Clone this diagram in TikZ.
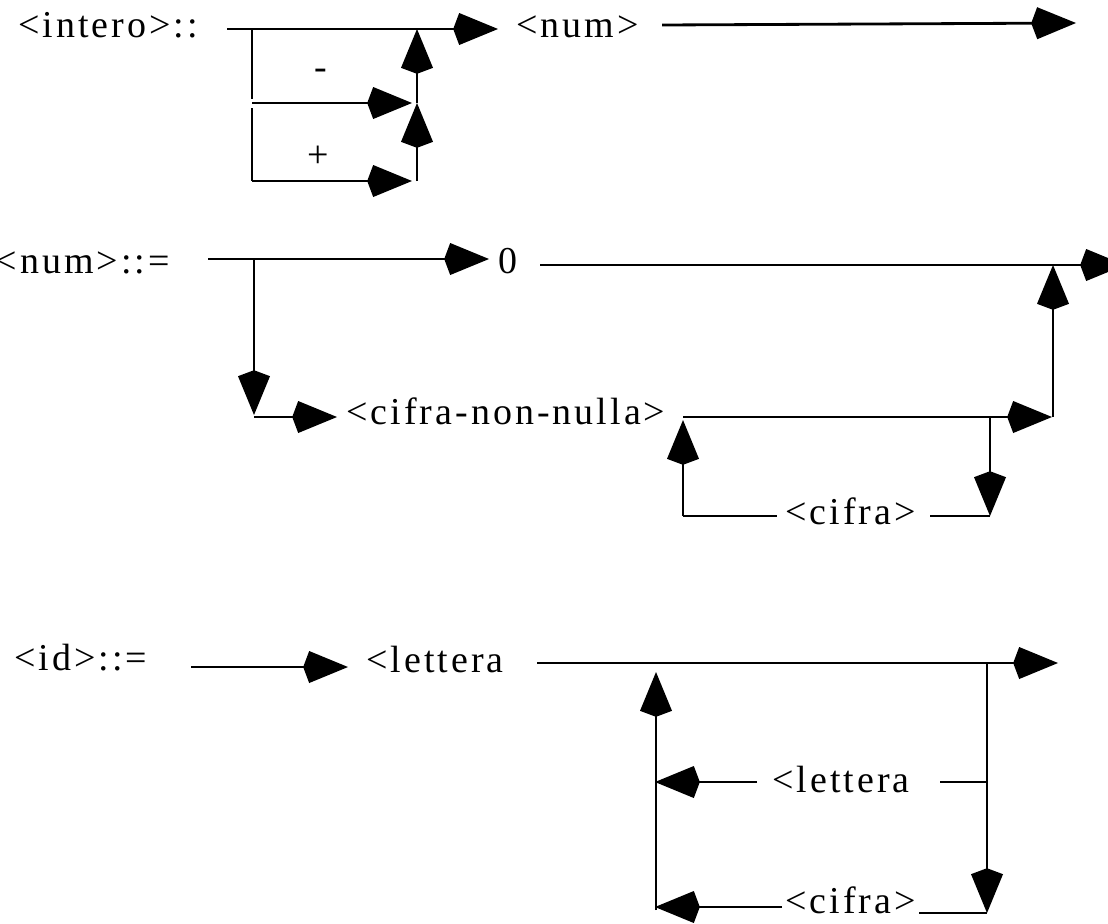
\documentclass[tikz,border=0pt]{standalone}
\usepackage{fontspec}
\setmainfont{Liberation Serif}[LetterSpace=8]
\usetikzlibrary{arrows.meta}
\usetikzlibrary{positioning}

\tikzset{
  rail/.style={line width=2pt},
  railto/.style={rail,-{Kite[length=1.12cm,width=0.8cm,inset=0.15cm]}},
  sym/.style={inner sep=0pt,anchor=base west,font=\fontsize{27}{30}\selectfont},
}

\begin{document}
\begin{tikzpicture}[x=0.025cm,y=-0.025cm]
        \useasboundingbox (0,0) rectangle (1108,923);
        \node[sym] (intero) at (18,37) {<intero>::};
        \node[sym] (num) at (516,37) {<num>};
        \node[sym,anchor=center] (minus) at (321,74) {-};
        \node[sym,anchor=center] (plus) at (318,157) {+};
        \coordinate (a1) at (227,29); \coordinate (a2) at (252,29);
        \coordinate (a3) at (417,29); \coordinate (a4) at (498,29);
        \coordinate (a5) at (662,25); \coordinate (a6) at (1076,23);
        \coordinate (b0) at (252,99); \coordinate (b1) at (252,103);
        \coordinate (b2) at (412,103); \coordinate (b3) at (417,103);
        \coordinate (b4) at (252,108);
        \coordinate (c1) at (252,181); \coordinate (c2) at (412,181); \coordinate (c3) at (417,181);
        \draw[railto] (a1) -- (a4);
        \draw[rail] (a2) -- (b0);
        \draw[rail] (b4) -- (c1);
        \draw[railto] (b1) -- (b2);
        \draw[railto] (c1) -- (c2);
        \draw[railto] (c3) -- (b3);
        \draw[railto] (b3) -- (a3);
        \draw[railto] (a5) -- (a6);

        \node[sym,anchor=base east] (numdef) at (170,273) {<num>::=};
        \node[sym] (zero) at (498,273) {0};
        \node[sym] (nonnulla) at (346,424) {<cifra-non-nulla>};
        \node[sym] (cifra) at (785,524) {<cifra>};
        \coordinate (d1) at (208,259); \coordinate (d2) at (254,259); \coordinate (d3) at (489,259);
        \coordinate (e1) at (540,265); \coordinate (e2) at (1053,265); \coordinate (e3) at (1125,265);
        \coordinate (f1) at (254,415); \coordinate (f2) at (254,417); \coordinate (f3) at (337,417);
        \coordinate (g1) at (683,417); \coordinate (g2) at (990,417);
        \coordinate (g3) at (1052,417); \coordinate (g4) at (1053,417);
        \coordinate (h1) at (683,516); \coordinate (h2) at (777,516);
        \coordinate (h3) at (930,516); \coordinate (h4) at (990,516); \coordinate (h5) at (683,420);
        \draw[railto] (d1) -- (d3);
        \draw[railto] (e1) -- (e3);
        \draw[railto] (d2) -- (f1);
        \draw[railto] (f2) -- (f3);
        \draw[railto] (g1) -- (g3);
        \draw[railto] (g4) -- (e2);
        \draw[railto] (g2) -- (h4);
        \draw[rail] (h1) -- (h2);
        \draw[rail] (h3) -- (h4);
        \draw[railto] (h1) -- (h5);

        \node[sym] (id) at (14,670) {<id>::=};
        \node[sym] (lettera) at (366,672) {<lettera};
        \node[sym] (letteraback) at (772,792) {<lettera};
        \node[sym] (cifraback) at (785,913) {<cifra>};
        \coordinate (i1) at (191,667); \coordinate (i2) at (348,667);
        \coordinate (j1) at (537,663); \coordinate (j2) at (987,663); \coordinate (j3) at (1058,663);
        \coordinate (k1) at (987,913); \coordinate (k2) at (919,913);
        \coordinate (l1) at (656,910); \coordinate (l2) at (656,672);
        \coordinate (m1) at (987,782); \coordinate (m2) at (940,782);
        \coordinate (m3) at (757,782); \coordinate (m4) at (655,782);
        \coordinate (n1) at (782,907); \coordinate (n2) at (655,907);
        \draw[railto] (i1) -- (i2);
        \draw[railto] (j1) -- (j3);
        \draw[railto] (j2) -- (k1);
        \draw[railto] (l1) -- (l2);
        \draw[rail] (m1) -- (m2);
        \draw[railto] (m3) -- (m4);
        \draw[railto] (n1) -- (n2);
        \draw[rail] (k2) -- (k1);
      \end{tikzpicture}
\end{document}
